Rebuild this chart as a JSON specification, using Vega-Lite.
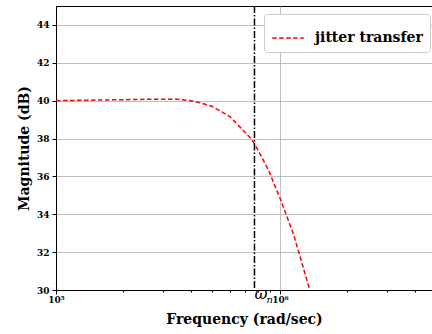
{
  "$schema": "https://vega.github.io/schema/vega-lite/v6.json",
  "width": 376,
  "height": 284,
  "autosize": {"type": "none"},
  "padding": {"left": 56, "top": 6, "right": 0, "bottom": 44},
  "background": "white",
  "config": {
    "view": {"stroke": "black", "strokeWidth": 1},
    "font": "DejaVu Serif",
    "axis": {
      "domainColor": "black",
      "tickColor": "black",
      "labelFont": "DejaVu Serif",
      "labelFontWeight": "bold",
      "labelFontSize": 9,
      "labelColor": "black",
      "titleFont": "DejaVu Serif",
      "titleFontWeight": "bold",
      "titleFontSize": 14,
      "titleColor": "black",
      "gridColor": "#b0b0b0",
      "gridWidth": 0.8
    }
  },
  "datasets": {
    "curve": [
      {"f": 100000, "db": 40.0, "series": "jitter transfer"},
      {"f": 150000, "db": 40.03, "series": "jitter transfer"},
      {"f": 200000, "db": 40.05, "series": "jitter transfer"},
      {"f": 250000, "db": 40.07, "series": "jitter transfer"},
      {"f": 300000, "db": 40.08, "series": "jitter transfer"},
      {"f": 350000, "db": 40.07, "series": "jitter transfer"},
      {"f": 400000, "db": 40.0, "series": "jitter transfer"},
      {"f": 450000, "db": 39.86, "series": "jitter transfer"},
      {"f": 500000, "db": 39.69, "series": "jitter transfer"},
      {"f": 550000, "db": 39.41, "series": "jitter transfer"},
      {"f": 600000, "db": 39.14, "series": "jitter transfer"},
      {"f": 650000, "db": 38.72, "series": "jitter transfer"},
      {"f": 700000, "db": 38.32, "series": "jitter transfer"},
      {"f": 735000, "db": 38.06, "series": "jitter transfer"},
      {"f": 770000, "db": 37.72, "series": "jitter transfer"},
      {"f": 800000, "db": 37.37, "series": "jitter transfer"},
      {"f": 850000, "db": 36.78, "series": "jitter transfer"},
      {"f": 900000, "db": 36.2, "series": "jitter transfer"},
      {"f": 950000, "db": 35.5, "series": "jitter transfer"},
      {"f": 1000000, "db": 34.87, "series": "jitter transfer"},
      {"f": 1050000, "db": 34.2, "series": "jitter transfer"},
      {"f": 1100000, "db": 33.56, "series": "jitter transfer"},
      {"f": 1150000, "db": 32.95, "series": "jitter transfer"},
      {"f": 1200000, "db": 32.2, "series": "jitter transfer"},
      {"f": 1300000, "db": 30.8, "series": "jitter transfer"},
      {"f": 1360000, "db": 30.0, "series": "jitter transfer"}
    ],
    "wn": [{"f": 770000, "sym": "ω", "sub": "n"}]
  },
  "layer": [
    {
      "data": {"name": "curve"},
      "mark": {"type": "line", "strokeDash": [4.5, 2.5], "strokeWidth": 1.5, "clip": true},
      "encoding": {
        "x": {
          "field": "f", "type": "quantitative",
          "scale": {"type": "log", "domain": [100000, 4780000], "nice": false},
          "axis": {
            "title": "Frequency (rad/sec)",
            "values": [100000, 200000, 300000, 400000, 500000, 600000, 700000, 800000, 900000, 1000000, 2000000, 3000000, 4000000],
            "labelExpr": "datum.value == 100000 ? '10⁵' : (datum.value == 1000000 ? '10⁶' : '')",
            "labelFlush": false,
            "labelOverlap": false,
            "grid": true,
            "gridOpacity": {"condition": {"test": "datum.value == 1000000", "value": 1}, "value": 0},
            "tickSize": {"condition": {"test": "datum.value == 100000 || datum.value == 1000000", "value": 4}, "value": 2},
            "labelPadding": 1,
            "titlePadding": 8
          }
        },
        "y": {
          "field": "db", "type": "quantitative",
          "scale": {"domain": [30, 45], "nice": false, "zero": false},
          "axis": {
            "title": "Magnitude (dB)",
            "values": [30, 32, 34, 36, 38, 40, 42, 44],
            "grid": true,
            "tickSize": 4,
            "labelPadding": 3,
            "titlePadding": 5
          }
        },
        "color": {
          "field": "series", "type": "nominal",
          "scale": {"domain": ["jitter transfer"], "range": ["#ff0000"]},
          "legend": {
            "title": null,
            "orient": "none",
            "legendX": 208,
            "legendY": 8,
            "strokeColor": "#cccccc",
            "fillColor": "white",
            "cornerRadius": 3,
            "padding": 7,
            "symbolType": "stroke",
            "symbolDash": [4.5, 2.5],
            "symbolStrokeWidth": 1.5,
            "symbolSize": 1000,
            "labelFont": "DejaVu Serif",
            "labelFontWeight": "bold",
            "labelFontSize": 14,
            "labelColor": "black",
            "labelOffset": 10
          }
        }
      }
    },
    {
      "data": {"name": "wn"},
      "mark": {"type": "rule", "color": "black", "strokeWidth": 1.5, "strokeDash": [7, 2, 1.5, 2]},
      "encoding": {"x": {"field": "f", "type": "quantitative"}}
    },
    {
      "data": {"name": "wn"},
      "mark": {"type": "text", "align": "left", "baseline": "alphabetic", "dx": 0, "dy": 9, "fontSize": 16, "fontStyle": "italic", "font": "DejaVu Serif", "color": "black"},
      "encoding": {
        "x": {"field": "f", "type": "quantitative"},
        "y": {"datum": 30},
        "text": {"field": "sym"}
      }
    },
    {
      "data": {"name": "wn"},
      "mark": {"type": "text", "align": "left", "baseline": "alphabetic", "dx": 12, "dy": 13, "fontSize": 10, "fontStyle": "italic", "font": "DejaVu Serif", "color": "black"},
      "encoding": {
        "x": {"field": "f", "type": "quantitative"},
        "y": {"datum": 30},
        "text": {"field": "sub"}
      }
    }
  ]
}
